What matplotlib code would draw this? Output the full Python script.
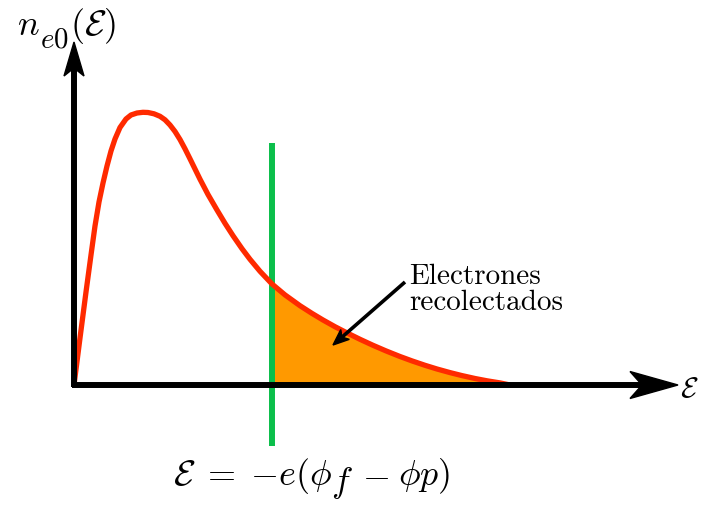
import numpy as np
import matplotlib.pyplot as plt
from matplotlib.patches import Polygon

plt.rcParams['mathtext.fontset'] = 'cm'
plt.rcParams['font.family'] = ['DejaVu Serif']

# distribution n_e0(E), read point by point
energy = [0, .06, .12, .17, .21, .25, .29, .33, .37, .41, .46, .52, .57, .63,
          .69, .74, .80, .86, .91, .96, 1.01, 1.06, 1.11, 1.16, 1.21, 1.26,
          1.34, 1.43, 1.51, 1.59, 1.68, 1.76, 1.86, 1.98, 2.11, 2.26, 2.38,
          2.49, 2.61, 2.73, 2.86, 2.99, 3.12, 3.26, 3.38, 3.51, 3.63, 3.76,
          3.88, 4.01, 4.13, 4.26, 4.36]
density = [0, .47, .93, 1.30, 1.59, 1.83, 2.02, 2.19, 2.34, 2.46, 2.575, 2.66,
           2.70, 2.72, 2.727, 2.725, 2.712, 2.687, 2.652, 2.600, 2.535, 2.455,
           2.362, 2.262, 2.160, 2.058, 1.905, 1.75, 1.617, 1.493, 1.363, 1.257,
           1.137, 1.01, 0.901, 0.793, 0.716, 0.650, 0.583, 0.521, 0.457,
           0.397, 0.341, 0.285, 0.241, 0.197, 0.160, 0.124, 0.094, 0.065,
           0.042, 0.021, 0]
cutoff = 1.98          # E = -e(phi_f - phi_p)
x_end, y_end = 6.04, 3.43

RED = '#ff2a00'
ORANGE = '#ff9900'
GREEN = '#0bbf4b'

E = np.array(energy)
n = np.array(density)

fig = plt.figure(figsize=(7.04, 5.05), dpi=100)
ax = fig.add_axes([0, 0, 1, 1])
ax.set_xlim(-0.74, 6.30)
ax.set_ylim(-1.20, 3.85)
ax.axis('off')
renderer = fig.canvas.get_renderer()


def stealth(ax, tip, direction, length, half, notch, **kw):
    # arrowhead with an indented back, drawn in data units
    d = np.array(direction, float)
    d /= np.hypot(*d)
    p = np.array([-d[1], d[0]])
    tip = np.array(tip, float)
    back = tip - d * length
    pts = [tip, back + p * half, tip - d * (length - notch), back - p * half]
    ax.add_patch(Polygon(pts, closed=True, **kw))


def pieces(ax, x, y, parts, size, ha='left'):
    # lay out math pieces one after another (for large, lowered indices)
    inv = ax.transData.inverted()
    texts, cx = [], x
    for s, gap, dy, scale in parts:
        cx += gap
        t = ax.text(cx, y + dy, s, fontsize=size * scale,
                    ha='left', va='baseline')
        bb = t.get_window_extent(renderer)
        cx += inv.transform((bb.x1, 0))[0] - inv.transform((bb.x0, 0))[0]
        texts.append(t)
    if ha == 'center':
        shift = (cx - x) / 2
        for t in texts:
            px, py = t.get_position()
            t.set_position((px - shift, py))


# collected electrons: area above the cutoff
mask = E >= cutoff
ax.fill_between(E[mask], 0, n[mask], color=ORANGE, lw=0, zorder=1)

ax.plot(E, n, color=RED, lw=3.8, solid_joinstyle='round',
        solid_capstyle='round', zorder=3)

# axes with arrowheads
ax.plot([-0.02, x_end - 0.3], [0, 0], color='black', lw=4.3,
        solid_capstyle='butt', zorder=4)
ax.plot([0, 0], [-0.02, y_end - 0.2], color='black', lw=4.3,
        solid_capstyle='butt', zorder=4)
stealth(ax, (x_end, 0), (1, 0), 0.48, 0.135, 0.12, color='black', zorder=5)
stealth(ax, (0, y_end), (0, 1), 0.34, 0.10, 0.08, color='black', zorder=5)

# cutoff line
ax.plot([cutoff, cutoff], [-0.61, 2.42], color=GREEN, lw=4.3,
        solid_capstyle='butt', zorder=2)

# labels
pieces(ax, -0.57, 3.50,
       [(r'$n$', 0, 0, 1),
        (r'$e0$', 0.0, -0.12, 0.8),
        (r'$(\mathcal{E})$', 0.02, 0, 1)], 26)
ax.text(6.06, -0.12, r'$\mathcal{E}$', fontsize=21, ha='left', va='baseline')
pieces(ax, 2.375, -1.0,
       [(r'$\mathcal{E}\;=\;{-e}(\phi$', 0, 0, 1),
        (r'$f$', -0.01, -0.07, 1),
        (r'$-$', 0.09, 0, 1),
        (r'$\phi p)$', 0.09, 0, 1)], 26, ha='center')
ax.text(3.35, 0.75, 'Electrones\nrecolectados', family='cmr10', fontsize=21,
        linespacing=1.0, ha='left', va='baseline')

# pointer to the shaded area
tail, head = np.array([3.31, 1.03]), np.array([2.59, 0.40])
d = head - tail
d /= np.hypot(*d)
ax.plot([tail[0], head[0] - d[0] * 0.1], [tail[1], head[1] - d[1] * 0.1],
        color='black', lw=2.6, solid_capstyle='butt', zorder=6)
stealth(ax, head, d, 0.16, 0.065, 0.04, color='black', zorder=6)

fig.savefig('out.png', dpi=100)
